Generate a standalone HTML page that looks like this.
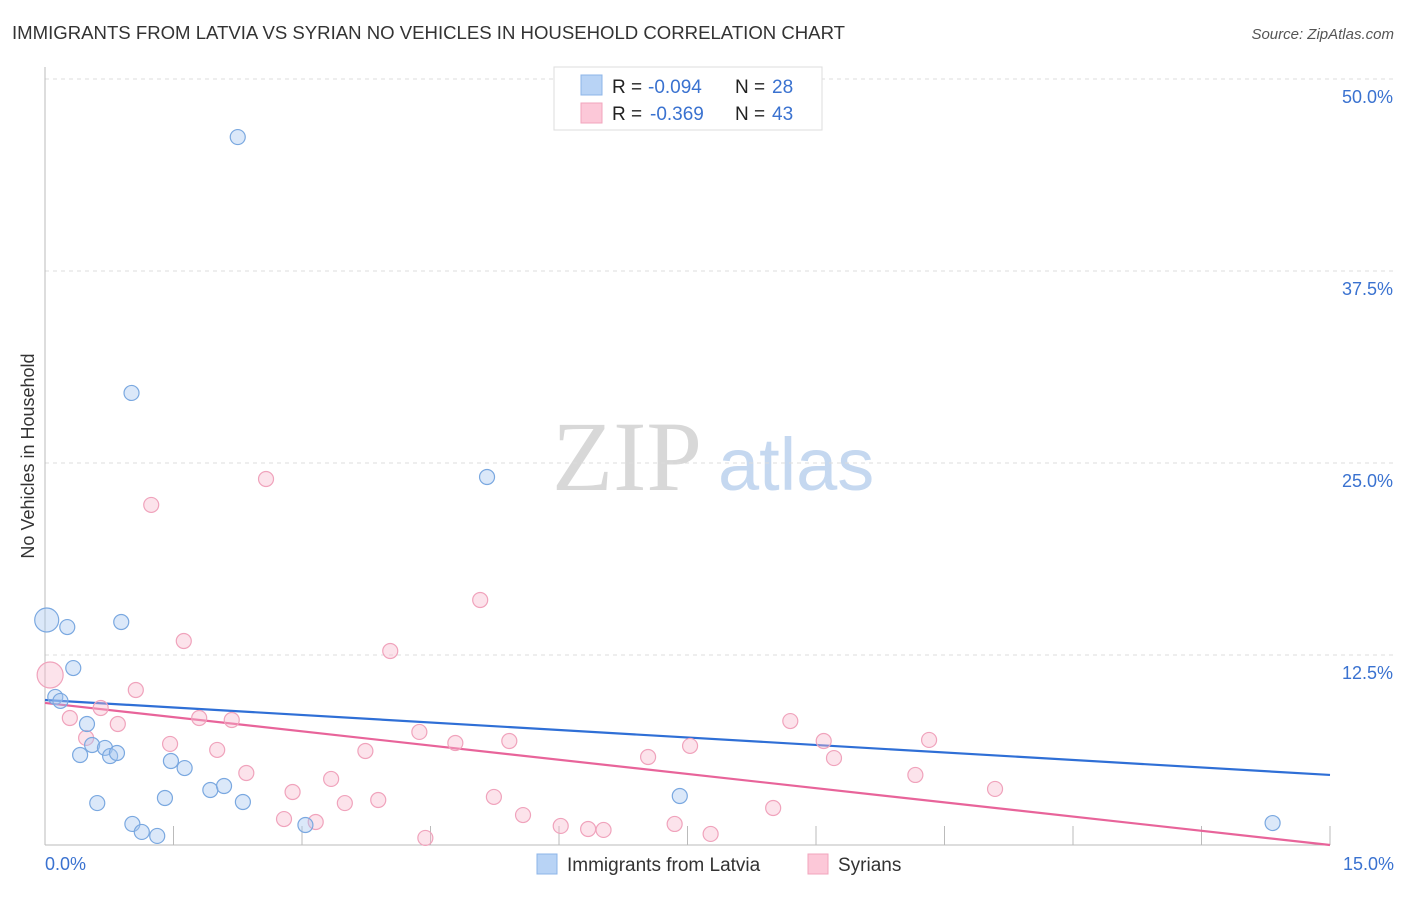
<!DOCTYPE html>
<html><head><meta charset="utf-8"><style>
body{margin:0;background:#fff;font-family:"Liberation Sans",sans-serif;}
svg text{font-family:"Liberation Sans",sans-serif;}
</style></head><body>
<svg id="chart" width="1406" height="892" viewBox="0 0 1406 892" xmlns="http://www.w3.org/2000/svg">
<text x="12" y="39" font-size="18.4" fill="#333" textLength="833" lengthAdjust="spacingAndGlyphs">IMMIGRANTS FROM LATVIA VS SYRIAN NO VEHICLES IN HOUSEHOLD CORRELATION CHART</text>
<text x="1394" y="39" font-size="15" fill="#555" text-anchor="end" font-style="italic">Source: ZipAtlas.com</text>
<text x="552" y="490" font-size="100" fill="#d8d8d8" style="font-family:'Liberation Serif',serif">ZIP</text>
<text x="718" y="490" font-size="74" fill="#c5d8f0">atlas</text>
<text transform="translate(34,456) rotate(-90)" font-size="18" fill="#333" text-anchor="middle">No Vehicles in Household</text>
<g id="grid"></g><g id="axes"></g><g id="trends"></g><g id="points"></g>
<g>
<rect x="554" y="67" width="268" height="63" fill="#fff" stroke="#ddd"/>
<rect x="581" y="75" width="21" height="20" fill="#b8d3f5" stroke="#8db4e8"/>
<rect x="581" y="103" width="21" height="20" fill="#fcc8d8" stroke="#f2a5bd"/>
<text x="612" y="93" font-size="19" fill="#222">R =</text>
<text x="648" y="93" font-size="19" fill="#3a72d0">-0.094</text>
<text x="735" y="93" font-size="19" fill="#222">N =</text>
<text x="772" y="93" font-size="19" fill="#3a72d0">28</text>
<text x="612" y="120" font-size="19" fill="#222">R =</text>
<text x="650" y="120" font-size="19" fill="#3a72d0">-0.369</text>
<text x="735" y="120" font-size="19" fill="#222">N =</text>
<text x="772" y="120" font-size="19" fill="#3a72d0">43</text>
</g>
<g>
<rect x="537" y="854" width="20" height="20" fill="#b8d3f5" stroke="#8db4e8"/>
<text x="567" y="871" font-size="19" fill="#333">Immigrants from Latvia</text>
<rect x="808" y="854" width="20" height="20" fill="#fcc8d8" stroke="#f2a5bd"/>
<text x="838" y="871" font-size="19" fill="#333">Syrians</text>
</g>
</svg>
<script>
const yTicks=[12.5,25,37.5,50];
const yTickLabels=["12.5%","25.0%","37.5%","50.0%"];
const xTickCount=10;
const blueX=[0.02,0.26,0.33,0.12,0.18,0.49,0.41,0.55,0.70,0.76,0.84,0.61,0.89,1.01,1.02,1.13,1.31,1.40,1.47,1.63,1.93,2.09,2.31,2.25,3.04,5.16,7.41,14.33];
const blueY=[14.78,14.32,11.65,9.77,9.51,8.01,5.99,6.64,6.45,5.92,6.12,2.86,14.65,29.56,1.50,0.98,0.72,3.19,5.60,5.14,3.71,3.97,2.93,46.22,1.43,24.09,3.32,1.56];
const pinkX=[0.06,0.29,0.48,0.65,0.85,1.06,1.24,1.46,1.62,1.80,2.01,2.18,2.35,2.58,2.79,2.89,3.16,3.34,3.50,3.74,3.89,4.03,4.37,4.44,4.79,5.08,5.24,5.42,5.58,6.02,6.34,6.52,7.04,7.35,7.53,7.77,8.50,8.70,9.09,9.21,10.16,10.32,11.09];
const pinkY=[11.20,8.40,7.10,9.05,8.01,10.22,22.27,6.71,13.41,8.40,6.32,8.27,4.82,23.96,1.82,3.58,1.63,4.43,2.86,6.25,3.06,12.76,7.49,0.59,6.77,16.08,3.26,6.90,2.08,1.37,1.17,1.11,5.86,1.50,6.58,0.85,2.54,8.20,6.90,5.79,4.69,6.97,3.78];
const blueTrend=[9.57,4.69];
const pinkTrend=[9.38,0.13];
const NS="http://www.w3.org/2000/svg";
const X0=45,X1=1330,Y0=847,PXY=15.36;
const xs=v=>X0+(X1-X0)*v/15;
const ys=v=>Y0-v*PXY;
function mk(tag,attrs,parent){const e=document.createElementNS(NS,tag);for(const k in attrs)e.setAttribute(k,attrs[k]);parent.appendChild(e);return e;}
const grid=document.getElementById('grid'),axes=document.getElementById('axes');
yTicks.forEach((t,i)=>{
 const l=mk('line',{x1:X0,x2:1394,y1:ys(t),y2:ys(t),stroke:'#ddd','stroke-dasharray':'4,4'},grid);
 
 
 const tx=mk('text',{x:1393,y:ys(t)+24,'font-size':18,fill:'#3a72d0','text-anchor':'end'},axes);
 tx.textContent=yTickLabels[i];
 
 
});
const ya=mk('line',{x1:X0,x2:X0,y1:67,y2:845,stroke:'#bbb'},axes);


const xa=mk('line',{x1:X0,x2:X1,y1:845,y2:845,stroke:'#bbb'},axes);


for(let i=1;i<=xTickCount;i++){
 const t=mk('line',{x1:xs(i*1.5),x2:xs(i*1.5),y1:826,y2:845,stroke:'#bbb'},axes);
 
 
}
[["0.0%",45,'start'],["15.0%",1394,'end']].forEach(a=>{
 const t=mk('text',{x:a[1],y:870,'font-size':18,fill:'#3a72d0','text-anchor':a[2]},axes);
 t.textContent=a[0];
 
 
});
const tr=document.getElementById('trends');
const bl=mk('line',{x1:xs(0),y1:ys(blueTrend[0]),x2:xs(15),y2:ys(blueTrend[1]),stroke:'#2f6fd6','stroke-width':2.2},tr);


const pl=mk('line',{x1:xs(0),y1:ys(pinkTrend[0]),x2:xs(15),y2:ys(pinkTrend[1]),stroke:'#e8649a','stroke-width':2.2},tr);


const pts=document.getElementById('points');
pinkX.forEach((x,i)=>{
 const c=mk('circle',{cx:xs(x),cy:ys(pinkY[i]),r:i==0?13:7.5,fill:'rgba(248,185,205,0.4)',stroke:'#f0a3bc','stroke-width':1.2},pts);
 
 
});
blueX.forEach((x,i)=>{
 const c=mk('circle',{cx:xs(x),cy:ys(blueY[i]),r:i==0?12:7.5,fill:'rgba(165,198,240,0.4)',stroke:'#7aa8e0','stroke-width':1.2},pts);
 
 
});
</script>
</body></html>
